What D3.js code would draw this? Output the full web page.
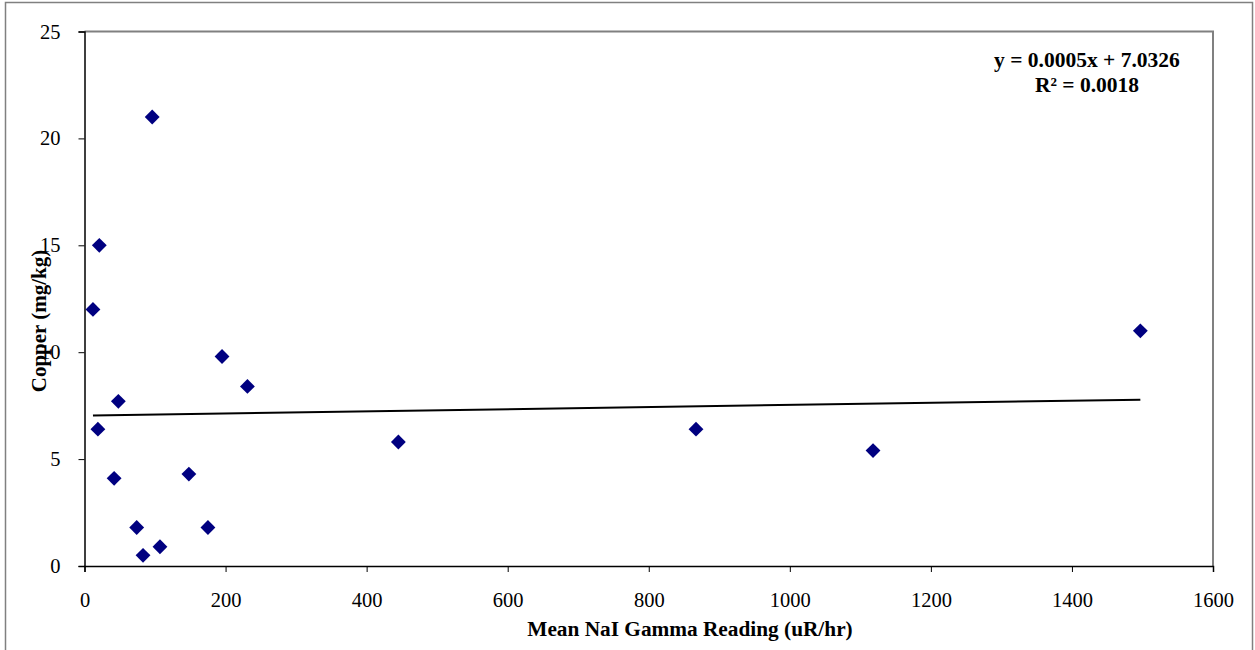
<!DOCTYPE html>
<html>
<head>
<meta charset="utf-8">
<script src="https://cdn.jsdelivr.net/npm/d3@7"></script>
<style>
  html, body { margin: 0; padding: 0; background: #fff; }
  svg { display: block; }
</style>
</head>
<body>
<div id="chart"></div>
<script>
// data
const gammaReading = [12, 19, 21, 42, 48, 74, 83, 96, 107, 148, 175, 195, 231, 445, 867, 1118, 1497];
const copper = [12, 6.4, 15, 4.1, 7.7, 1.8, 0.5, 21, 0.9, 4.3, 1.8, 9.8, 8.4, 5.8, 6.4, 5.4, 11];
const xTicks = [0, 200, 400, 600, 800, 1000, 1200, 1400, 1600];
const yTicks = [0, 5, 10, 15, 20, 25];
// linear trendline as printed on the chart
const trendSlope = 0.0005;
const trendIntercept = 7.0326;
const trendLabel = ["y = 0.0005x + 7.0326", "R\u00b2 = 0.0018"];

const width = 1255, height = 650;
const margin = { top: 31.5, right: 42, bottom: 84, left: 84.5 };
const font = "'Liberation Serif', 'Times New Roman', serif";

const svg = d3.select("#chart").append("svg")
  .attr("width", width)
  .attr("height", height)
  .attr("font-family", font);

// outer chart frame
svg.append("rect")
  .attr("x", 5.5).attr("y", 2.5)
  .attr("width", 1247).attr("height", 700)
  .attr("fill", "none")
  .attr("stroke", "#808080")
  .attr("stroke-width", 1.5);

const x = d3.scaleLinear().domain([0, 1600]).range([margin.left, width - margin.right]);
const y = d3.scaleLinear().domain([0, 25]).range([height - margin.bottom, margin.top]);

// plot area border (gray top / right)
svg.append("path")
  .attr("d", `M${x(0)},${y(25)}H${x(1600)}V${y(0)}`)
  .attr("fill", "none")
  .attr("stroke", "#808080")
  .attr("stroke-width", 2);

// y axis
const yAxis = svg.append("g")
  .attr("transform", `translate(${x(0)},0)`)
  .call(d3.axisLeft(y).tickValues(yTicks).tickSize(6).tickPadding(18).tickFormat(d3.format("d")));
yAxis.select(".domain").attr("stroke", "#000").attr("stroke-width", 1.5);
yAxis.selectAll(".tick line").attr("stroke", "#000");
yAxis.selectAll(".tick text")
  .attr("font-family", font).attr("font-size", 20.5).attr("fill", "#000");

// x axis
const xAxis = svg.append("g")
  .attr("transform", `translate(0,${y(0)})`)
  .call(d3.axisBottom(x).tickValues(xTicks).tickSize(6).tickPadding(20).tickFormat(d3.format("d")));
xAxis.select(".domain").attr("stroke", "#000").attr("stroke-width", 1.5);
xAxis.selectAll(".tick line").attr("stroke", "#000");
xAxis.selectAll(".tick text")
  .attr("font-family", font).attr("font-size", 20.5).attr("fill", "#000");

// axis titles
svg.append("text")
  .attr("x", 690).attr("y", 636)
  .attr("text-anchor", "middle")
  .attr("font-weight", "bold").attr("font-size", 21.3)
  .text("Mean NaI Gamma Reading (uR/hr)");

svg.append("text")
  .attr("transform", "translate(46,321) rotate(-90)")
  .attr("text-anchor", "middle")
  .attr("font-weight", "bold").attr("font-size", 21)
  .text("Copper (mg/kg)");

// trendline over the data range
const [xMin, xMax] = d3.extent(gammaReading);
svg.append("line")
  .attr("x1", x(xMin)).attr("y1", y(trendSlope * xMin + trendIntercept))
  .attr("x2", x(xMax)).attr("y2", y(trendSlope * xMax + trendIntercept))
  .attr("stroke", "#000")
  .attr("stroke-width", 2);

// diamond markers
const diamond = d3.symbol().type(d3.symbolSquare).size(110);
svg.append("g")
  .selectAll("path")
  .data(gammaReading.map((g, i) => [g, copper[i]]))
  .join("path")
  .attr("d", diamond)
  .attr("transform", d => `translate(${x(d[0])},${y(d[1])}) rotate(45)`)
  .attr("fill", "#000080");

// trendline equation
svg.append("text")
  .attr("x", 1087).attr("y", 67)
  .attr("text-anchor", "middle")
  .attr("font-weight", "bold").attr("font-size", 21.5)
  .selectAll("tspan")
  .data(trendLabel)
  .join("tspan")
  .attr("x", 1087)
  .attr("dy", (d, i) => i ? 25 : 0)
  .text(d => d);
</script>
</body>
</html>
